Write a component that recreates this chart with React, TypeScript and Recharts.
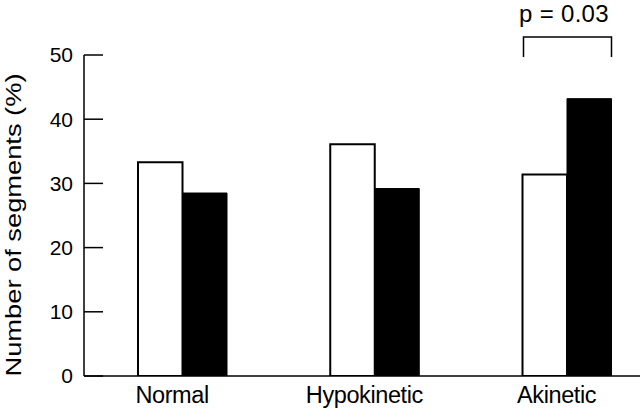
import { Bar, BarChart, LabelList, XAxis, YAxis } from 'recharts';

const categories = ['Normal', 'Hypokinetic', 'Akinetic'];
const openValues = [33.3, 36.1, 31.4];
const filledValues = [28.5, 29.2, 43.2];
const yTicks = [0, 10, 20, 30, 40, 50];
const significance = [{ category: 'Akinetic', label: 'p = 0.03' }];

const data = categories.map((name, i) => ({
  name,
  open: openValues[i],
  filled: filledValues[i]
}));

const FONT = '"Liberation Sans", Arial, Helvetica, sans-serif';

const Bracket = (props: any) => {
  const { x, width, index } = props;
  const note = significance.find((s) => s.category === categories[index]);
  if (!note) return null;
  const left = x - width + 1;
  const right = x + width;
  const top = 37;
  return (
    <g>
      <path
        d={`M${left},${top + 20} L${left},${top} L${right},${top} L${right},${top + 20}`}
        fill="none"
        stroke="#000"
        strokeWidth={1.5}
      />
      <text x={x - 3} y={22} textAnchor="middle" fontSize={24} fontFamily={FONT} fill="#000" letterSpacing={0.3}>
        {note.label}
      </text>
    </g>
  );
};

const YTitle = () => (
  <text
    x={21}
    y={225}
    transform="rotate(-90, 21, 225)"
    textAnchor="middle"
    fontSize={22}
    fontFamily={FONT}
    fill="#000"
    textLength={303}
    lengthAdjust="spacingAndGlyphs"
  >
    Number of segments (%)
  </text>
);

export default function App() {
  return (
    <div style={{ position: 'absolute', left: 0, top: 0, width: 640, height: 408, background: '#fff', overflow: 'hidden' }}>
      <BarChart
        width={640}
        height={408}
        data={data}
        margin={{ top: 55, right: 0, bottom: 0, left: 0 }}
        barGap={0}
        barSize={44.5}
      >
        <XAxis
          dataKey="name"
          height={32}
          padding={{ left: 2, right: -22.75 }}
          axisLine={{ stroke: '#000', strokeWidth: 1.5 }}
          tickLine={false}
          tickSize={0}
          tickMargin={10}
          tick={{ fill: '#000', fontSize: 23.5, fontFamily: FONT, dx: -10, letterSpacing: -0.4 }}
        />
        <YAxis
          width={84}
          domain={[0, 50]}
          ticks={yTicks}
          allowDataOverflow
          axisLine={{ stroke: '#000', strokeWidth: 1.5 }}
          tickLine={{ stroke: '#000', strokeWidth: 1.5 }}
          tickSize={-19}
          tickMargin={30}
          tick={{ fill: '#000', fontSize: 21, fontFamily: FONT }}
          label={<YTitle />}
        />
        <Bar dataKey="open" fill="#fff" stroke="#000" strokeWidth={2} isAnimationActive={false} />
        <Bar dataKey="filled" fill="#000" stroke="#000" strokeWidth={1} isAnimationActive={false}>
          <LabelList dataKey="filled" content={<Bracket />} />
        </Bar>
      </BarChart>
    </div>
  );
}
